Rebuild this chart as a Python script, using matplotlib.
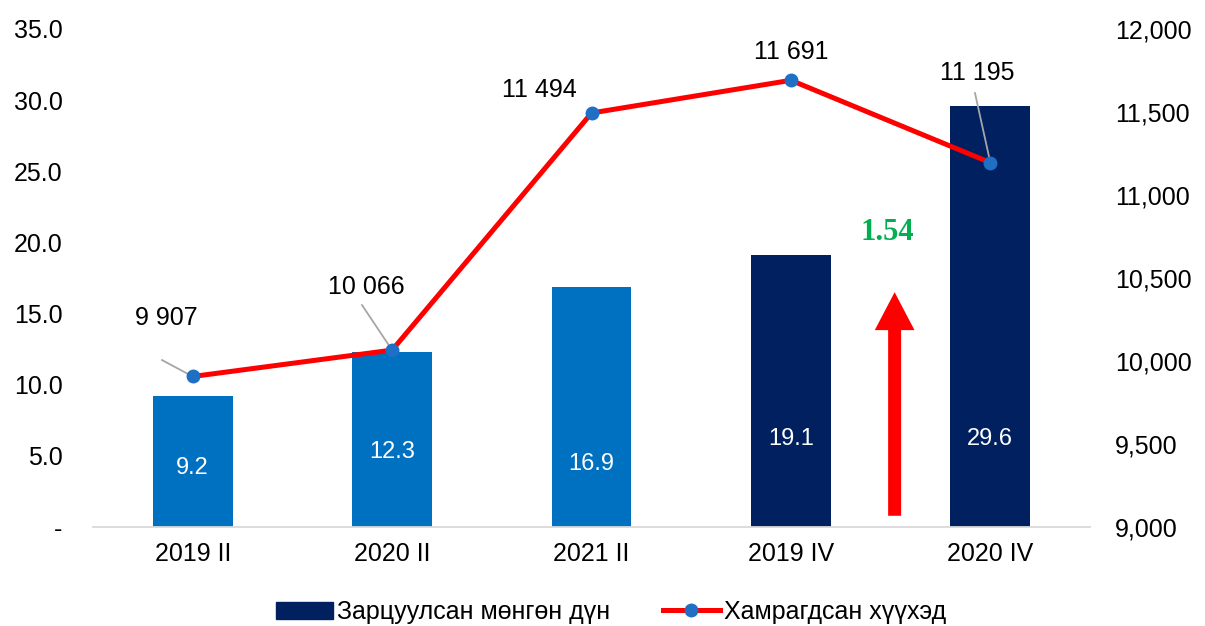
import numpy as np
import matplotlib
matplotlib.use("Agg")
import matplotlib.pyplot as plt
from matplotlib.patches import Patch
from matplotlib.lines import Line2D
from matplotlib.ticker import FuncFormatter

plt.rcParams['font.family'] = ['Liberation Sans', 'DejaVu Sans']

# ---- data ----
categories = ["2019 II", "2020 II", "2021 II", "2019 IV", "2020 IV"]
spent = [9.2, 12.3, 16.9, 19.1, 29.6]
children = [9907, 10066, 11494, 11691, 11195]
children_labels = ["9 907", "10 066", "11 494", "11 691", "11 195"]
growth_label = "1.54"
legend_labels = ["Зарцуулсан мөнгөн дүн", "Хамрагдсан хүүхэд"]

# ---- styles ----
light_blue = "#0070C0"
navy = "#002060"
bar_colors = [light_blue, light_blue, light_blue, navy, navy]
bar_label_y = [4.15, 5.3, 4.4, 6.2, 6.2]          # left-axis units
# label centre (x offset in categories, y in right-axis units)
line_label_pos = [(-0.134, 10259), (-0.131, 10446), (-0.263, 11633),
                  (0.0, 11861), (-0.065, 11735)]
# start of gray leader line (x offset, y) or None
leader_start = [(-0.154, 10006), (-0.151, 10337), None, None, (-0.077, 11614)]

fig = plt.figure(figsize=(12.05, 6.26), dpi=100)
ax = fig.add_axes([0.0772, 0.158, 0.8274, 0.7957])
ax2 = ax.twinx()

x = np.arange(len(categories))
ax.bar(x, spent, width=0.4, color=bar_colors, zorder=2)
for xi, v, ly in zip(x, spent, bar_label_y):
    ax.text(xi, ly, f"{v:.1f}", ha="center", va="center", color="white", fontsize=17)

ax.set_xlim(-0.5, len(categories) - 0.5)
ax.set_ylim(0, 35)
ax.set_yticks(np.arange(0, 36, 5))
ax.yaxis.set_major_formatter(FuncFormatter(lambda v, p: "-" if v == 0 else f"{v:.1f}"))
ax.set_xticks(x)
ax.set_xticklabels(categories)

ax2.set_ylim(9000, 12000)
ax2.set_yticks(np.arange(9000, 12001, 500))
ax2.yaxis.set_major_formatter(FuncFormatter(lambda v, p: f"{int(v):,}"))

ax2.plot(x, children, color="#FF0000", lw=3.6, marker="o", markersize=9,
         markerfacecolor="#1F6FC5", markeredgecolor="#1F6FC5", zorder=3)

for xi, v, lab, (dx, ly), ls in zip(x, children, children_labels, line_label_pos, leader_start):
    ax2.text(xi + dx, ly, lab, ha="center", va="center", fontsize=18, color="black")
    if ls is not None:
        ax2.plot([xi + ls[0], xi], [ls[1], v], color="#A6A6A6", lw=1.3, zorder=2.5)

# growth arrow
ax.annotate("", xy=(3.52, 16.7), xytext=(3.52, 0.6),
            arrowprops=dict(arrowstyle="simple,head_length=1.05,head_width=1.1,tail_width=0.36",
                            color="#FF0000", lw=0, mutation_scale=26))
ax.text(3.485, 20.7, growth_label, ha="center", va="center", fontsize=22,
        fontweight="bold", color="#00B050", family=["Liberation Serif", "DejaVu Serif"])

for a in (ax, ax2):
    for s in ("top", "left", "right"):
        a.spines[s].set_visible(False)
    a.tick_params(length=0, labelsize=18, colors="black")
ax2.spines["bottom"].set_visible(False)
ax.spines["bottom"].set_color("#D9D9D9")
ax.spines["bottom"].set_linewidth(1.3)
ax.tick_params(axis="x", pad=11)
ax.tick_params(axis="y", pad=22)
ax2.tick_params(axis="y", pad=18)

handles = [Patch(color=navy),
           Line2D([0], [0], color="#FF0000", lw=3.6, marker="o", markersize=9,
                  markerfacecolor="#1F6FC5", markeredgecolor="#1F6FC5")]
fig.legend(handles, legend_labels, loc="center", bbox_to_anchor=(0.507, 0.022),
           ncol=2, frameon=False, fontsize=18, handlelength=2.3, handletextpad=0.15,
           columnspacing=2.1, borderpad=0)

fig.savefig("out.png", dpi=100)
